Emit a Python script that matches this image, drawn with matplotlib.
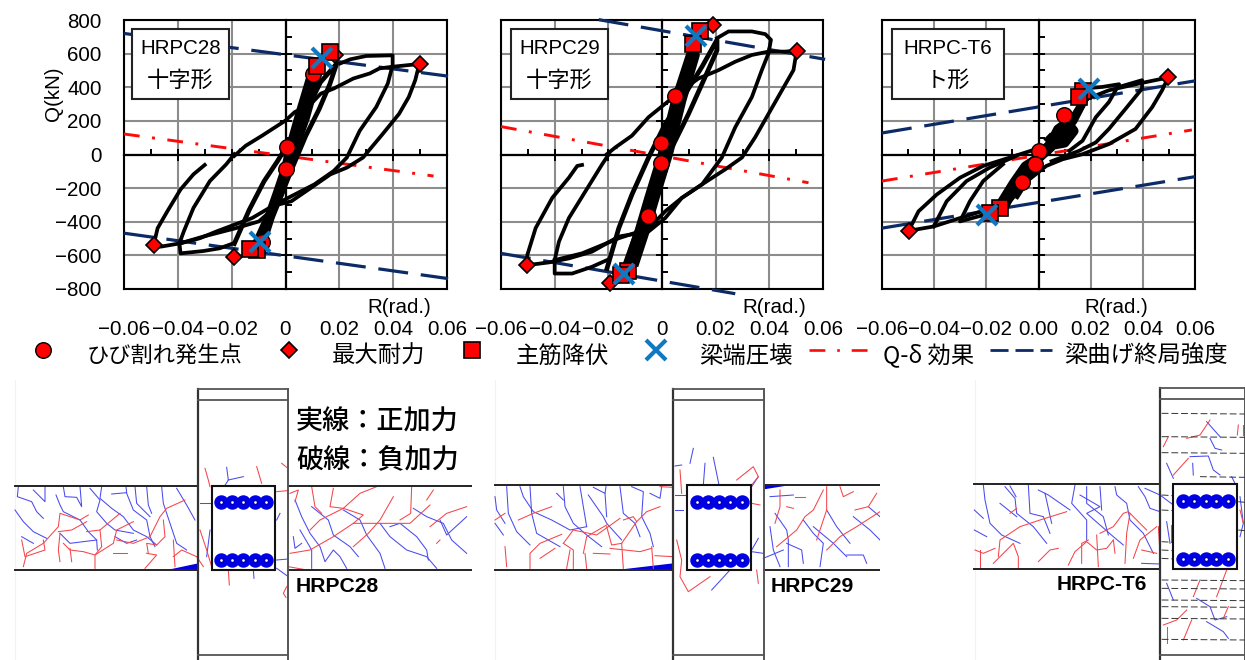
import matplotlib
matplotlib.use('Agg')
import matplotlib.pyplot as plt
from matplotlib.lines import Line2D
from matplotlib.patches import Polygon, Rectangle
from matplotlib.ticker import MultipleLocator

JP = ['Noto Sans CJK JP', 'DejaVu Sans']
LATIN = ['Liberation Sans', 'DejaVu Sans']
W, H = 1245, 660
NAVY = '#0b2a66'
RED_LINE = '#ff0a0a'
X_BLUE = '#0f78c0'

x_ticks = [-0.06, -0.04, -0.02, 0, 0.02, 0.04, 0.06]
y_ticks = [-800, -600, -400, -200, 0, 200, 400, 600, 800]
legend_labels = ['ひび割れ発生点', '最大耐力', '主筋降伏', '梁端圧壊', 'Q-δ 効果', '梁曲げ終局強度']

# --- HRPC28 ---
c28_curves = [
    [(-.019, -8), (-.0148, 52), (-.0087, 112), (0, 202), (.0034, 252), (.0095, 302), (.0131, 362), (.0179, 392),
     (.0252, 452), (.0313, 482), (.0349, 512), (.0398, 522), (.0458, 532), (.0497, 538), (.0482, 442), (.0458, 342),
     (.0422, 242), (.0361, 122), (.0288, -18), (.0228, -78), (.0167, -118), (.0095, -198), (.0022, -278),
     (-.0027, -298), (-.0099, -398), (-.0184, -438), (-.0305, -488), (-.039, -528), (-.0463, -548), (-.0491, -545),
     (-.0475, -438), (-.0439, -338), (-.039, -208), (-.0342, -118), (-.03, -62)],
    [(.0204, 542), (.024, 566), (.03, 586), (.0398, 590), (.0398, 532), (.038, 422), (.0337, 282), (.0276, 142),
     (.0228, -18), (.0179, -98), (.0107, -178), (.0034, -238), (-.0039, -298), (-.0124, -378), (-.0257, -458),
     (-.0318, -498), (-.039, -528)],
    [(-.0193, -528), (-.0245, -558), (-.0305, -574), (-.039, -588), (-.0394, -528), (-.0378, -458), (-.0342, -318),
     (-.0281, -158), (-.022, -58), (-.019, 2)],
]
c28_bands = [
    [(-.0105, -520), (-.006, -360), (-.0025, -200), (0, -80), (.002, 60), (.005, 230), (.0095, 470), (.0115, 450),
     (.0075, 220), (.004, 60), (.001, -80), (-.002, -230), (-.0055, -370), (-.0085, -520)],
]
c28_wide = [
    [(-.019, -530), (-.0135, -330), (-.008, -160), (-.003, -40), (.002, 90), (.0075, 250), (.013, 430), (.019, 540),
     (.0165, 420), (.0125, 270), (.0075, 110), (.0025, -80), (-.0015, -240), (-.006, -400), (-.01, -500)],
]
c28_crack = [(.0007, 46), (.0001, -84), (.0101, 478), (-.0087, -518)]
c28_peak = [(.05, 536), (-.049, -540), (-.019, -612), (.0185, 592)]
c28_yield = [(.0167, 608), (.0116, 528), (-.0105, -568), (-.0133, -564)]
c28_crush = [(.0137, 572), (-.0096, -518)]
c28_q_delta = ([-.06, .055], [122, -128])
c28_upper = ([-.06, .0604], [720, 466])
c28_lower = ([-.06, .0604], [-468, -738])

# --- HRPC29 ---
c29_curves = [
    [(-.0205, 2), (-.0174, 42), (-.0112, 112), (-.005, 222), (.0012, 302), (.0074, 382), (.0136, 452), (.0211, 502),
     (.0273, 552), (.0335, 592), (.0397, 612), (.0459, 612), (.0502, 618), (.049, 502), (.0447, 382), (.0397, 242),
     (.0347, 102), (.0298, -18), (.0236, -88), (.0149, -178), (.0074, -258), (.0012, -378), (-.005, -458),
     (-.0161, -488), (-.0261, -578), (-.0347, -618), (-.0422, -642), (-.0502, -658), (-.0502, -598), (-.0471, -438),
     (-.0409, -258), (-.0347, -138), (-.0316, -68), (-.0298, -62)],
    [(.0205, 692), (.0248, 732), (.0335, 732), (.0385, 716), (.0406, 682), (.0397, 602), (.0372, 502), (.0335, 342),
     (.0273, 162), (.0223, -18), (.0149, -178), (.0074, -258), (.0012, -338), (-.005, -440), (-.0161, -498),
     (-.0298, -588), (-.04, -628)],
    [(-.0205, -628), (-.0261, -668), (-.0335, -708), (-.04, -708), (-.04, -628), (-.0384, -518), (-.0347, -378),
     (-.0285, -218), (-.0223, -58), (-.0198, 2)],
]
c29_bands = [
    [(-.0124, -638), (-.0087, -458), (-.005, -258), (0, 2), (.005, 322), (.0105, 592), (.0125, 592), (.0075, 322),
     (.0025, 2), (-.0025, -258), (-.0062, -458), (-.0099, -638)],
]
c29_wide = [
    [(-.0205, -678), (-.0161, -438), (-.0112, -238), (-.005, -18), (.0012, 182), (.0087, 362), (.0149, 522),
     (.0205, 682), (.0205, 620), (.0161, 462), (.0099, 242), (.0037, 42), (-.0025, -198), (-.0099, -478),
     (-.0135, -640)],
]
c29_crack = [(.0048, 350), (-.0002, 68), (-.0002, -52), (-.0052, -368)]
c29_peak = [(.019, 772), (.0502, 618), (-.0502, -658), (-.0192, -764)]
c29_yield = [(.0143, 732), (.0114, 656), (-.0127, -694), (-.0151, -718)]
c29_crush = [(.0128, 702), (-.014, -712)]
c29_q_delta = ([-.06, .0546], [166, -168])
c29_upper = ([-.0236, .0608], [802, 566])
c29_lower = ([-.06, .0273], [-588, -828])

# --- HRPC-T6 ---
t6_curves = [
    [(.0169, 320), (.027, 382), (.0385, 422), (.0497, 458), (.0474, 382), (.0436, 282), (.0372, 152), (.027, 62),
     (.0169, 2), (.0093, -28), (.003, -68), (-.0045, -160), (-.0110, -280), (-.0199, -328), (-.0301, -378),
     (-.0402, -428), (-.0498, -454), (-.046, -338), (-.039, -238), (-.0301, -138), (-.0212, -68), (-.011, -18),
     (-.0009, 32)],
    [(.0309, 402), (.0397, 442), (.0397, 392), (.0334, 272), (.027, 152), (.022, 72), (.0156, 22), (.005, -40)],
    [(-.0402, -428), (-.0352, -278), (-.0276, -158), (-.0187, -78), (-.0085, -8)],
    [(.0169, 392), (.0245, 402), (.0309, 418), (.027, 312), (.022, 222), (.0169, 82), (.0118, 22)],
    [(-.0187, -350), (-.0301, -398), (-.0263, -278), (-.0212, -158), (-.0136, -58)],
]
t6_bands = [
    [(-.0123, -298), (-.0072, -138), (0, 2), (.0067, 102), (.0143, 242), (.0182, 342), (.0175, 320), (.0135, 200),
     (.0095, 120), (.005, 40), (0, -30), (-.006, -110), (-.011, -240), (-.0155, -310)],
]
t6_wide = [
    [(.0035, 30), (.0075, 150), (.011, 190), (.0135, 140), (.010, 70), (.0065, 60), (.0045, 90)],
    [(-.0135, -270), (-.0095, -170), (-.005, -70), (-.001, -30), (-.004, -120), (-.0085, -230)],
]
t6_crack = [(.0099, 236), (.0001, 22), (-.0014, -58), (-.0065, -164)]
t6_peak = [(.0497, 458), (-.0498, -454)]
t6_yield = [(.0171, 378), (.0156, 342), (-.0146, -318), (-.0187, -350)]
t6_crush = [(.0194, 392), (-.0199, -362)]
t6_q_delta = ([-.06, .0588], [-158, 146])
t6_upper = ([-.06, .06], [128, 438])
t6_lower = ([-.06, .06], [-438, -132])

# --- crack sketches, read in 3x crop units ---
a_blue = [
    [(55, 320), (52, 350), (95, 365), (110, 395), (130, 415)], [(45, 390), (70, 425), (100, 455), (140, 475)],
    [(100, 330), (135, 365), (135, 320)], [(168, 345), (180, 375), (190, 395), (240, 420), (265, 455), (290, 480), (292, 510)],
    [(190, 320), (195, 350), (230, 352), (245, 380), (240, 320)], [(270, 325), (300, 360), (290, 395), (320, 430), (345, 450), (400, 460)],
    [(305, 320), (300, 355), (335, 385), (370, 410), (400, 450), (440, 470), (470, 495)], [(335, 342), (380, 338), (378, 320)],
    [(380, 340), (400, 390), (440, 420), (450, 470), (465, 500)], [(405, 320), (410, 370), (450, 410)],
    [(440, 320), (445, 375), (455, 400)], [(485, 320), (490, 370), (510, 430), (530, 490), (560, 510)],
    [(530, 325), (560, 375), (585, 420)], [(65, 470), (100, 490)], [(180, 460), (210, 490), (290, 480)],
    [(345, 470), (380, 490), (410, 480)],
    [(885, 360), (905, 410), (930, 460), (960, 500), (975, 545), (1000, 510), (1020, 530), (1040, 565)],
    [(935, 380), (985, 420), (1000, 465), (1050, 500), (1075, 530)], [(1030, 390), (1080, 420), (1100, 465), (1140, 520), (1155, 565)],
    [(1140, 430), (1170, 470), (1220, 510), (1280, 530), (1310, 565)], [(1170, 440), (1200, 430), (1250, 470), (1280, 510), (1285, 540)],
    [(1240, 385), (1280, 410), (1330, 430), (1355, 480), (1400, 520)], [(900, 450), (935, 510), (935, 565)],
    [(1320, 420), (1340, 465), (1400, 410)], [(880, 470), (885, 505), (905, 490)],
    [(680, 262), (685, 300), (730, 290)], [(685, 300), (675, 316)], [(760, 570), (762, 595)], [(830, 540), (865, 537)],
    [(830, 420), (840, 400)], [(600, 370), (630, 370)], [(630, 450), (620, 530)], [(830, 565), (865, 590)],
]
a_red = [
    [(70, 560), (80, 520), (130, 490), (175, 440), (180, 400), (240, 420), (265, 405)], [(65, 480), (75, 530), (135, 510), (130, 480)],
    [(175, 455), (215, 450), (260, 425)], [(180, 460), (175, 510), (180, 545)],
    [(190, 490), (210, 510), (250, 515), (285, 525), (340, 490), (350, 450), (400, 425)], [(260, 455), (300, 450), (360, 400)],
    [(300, 450), (305, 500), (285, 525), (285, 565)], [(215, 545), (210, 505)], [(340, 520), (380, 520)],
    [(350, 480), (400, 490), (450, 470), (480, 410), (500, 385), (555, 360)], [(445, 520), (440, 490), (470, 495), (495, 470), (490, 420)],
    [(440, 520), (470, 525), (435, 565)], [(520, 530), (545, 510), (590, 530), (610, 560)], [(520, 480), (525, 560)],
    [(1000, 325), (990, 380), (1030, 385), (1080, 340), (1130, 320)], [(930, 450), (960, 420), (1030, 385), (1090, 405), (1060, 430)],
    [(870, 520), (930, 510), (1000, 470), (1060, 430), (1150, 430), (1230, 430), (1290, 375)], [(1060, 500), (1105, 460), (1140, 420), (1180, 350)],
    [(935, 320), (945, 380), (965, 400)], [(1235, 320), (1232, 400), (1200, 420)], [(1290, 440), (1340, 400), (1400, 380)],
    [(1300, 330), (1280, 360)], [(870, 340), (895, 330), (885, 365)], [(1310, 490), (1320, 480)],
    [(615, 265), (625, 300), (630, 320)], [(770, 260), (785, 310)], [(845, 250), (860, 262)], [(685, 570), (688, 615)],
    [(860, 620), (850, 640), (858, 652)], [(600, 450), (620, 510), (635, 560)], [(865, 560), (910, 568)], [(830, 335), (862, 332)],
]
a_wedges = [[(510, 568), (595, 550), (595, 570)], [(866, 317), (880, 317), (866, 321)]]

b_blue = [
    [(80, 320), (85, 400), (110, 455), (150, 495)], [(120, 320), (130, 350), (160, 395), (215, 420), (270, 450), (320, 440)],
    [(150, 320), (155, 400), (170, 460), (240, 500)], [(250, 320), (255, 380), (280, 430), (320, 465), (365, 500)],
    [(300, 320), (320, 440)], [(325, 345), (370, 410), (380, 430), (425, 480)], [(340, 322), (375, 340), (378, 320)],
    [(375, 340), (380, 410)], [(420, 320), (430, 400), (465, 430), (480, 470)], [(455, 320), (490, 335), (485, 410), (510, 460), (520, 500)],
    [(510, 340), (540, 355), (545, 320)], [(230, 340), (250, 360)], [(45, 350), (50, 390), (75, 430)], [(45, 430), (70, 465)],
    [(870, 350), (940, 345)], [(885, 400), (920, 450), (925, 480), (925, 560)], [(870, 440), (880, 510), (900, 560)],
    [(970, 420), (1000, 460), (1030, 490), (1020, 560)], [(1000, 440), (1060, 490), (1100, 530)], [(1040, 390), (1070, 440), (1110, 490)],
    [(1120, 410), (1170, 450), (1200, 480)], [(850, 535), (910, 510)], [(920, 490), (965, 510), (970, 550)],
    [(1100, 525), (1150, 525), (1160, 550)], [(1165, 380), (1200, 410)],
    [(640, 205), (630, 250)], [(585, 258), (605, 255)], [(675, 250), (670, 315)], [(700, 232), (717, 315)], [(585, 345), (620, 345)],
    [(585, 390), (610, 390)], [(695, 630), (750, 570)], [(815, 515), (850, 520)], [(815, 510), (835, 475)], [(815, 320), (835, 290)],
]
b_red = [
    [(150, 565), (150, 520), (180, 490), (245, 463)], [(215, 380), (160, 400), (115, 420)], [(180, 535), (225, 505)],
    [(250, 490), (280, 510), (280, 565)], [(250, 490), (280, 450), (350, 465), (420, 415)], [(310, 520), (320, 470), (380, 435)],
    [(315, 520), (320, 565)], [(380, 440), (395, 495), (425, 490), (470, 425), (500, 395), (540, 380)], [(390, 505), (480, 515), (515, 505)],
    [(425, 490), (430, 565)], [(515, 500), (520, 565)], [(75, 500), (80, 560)], [(260, 565), (270, 510)], [(340, 520), (390, 522)],
    [(525, 527), (580, 530)], [(430, 420), (460, 410), (470, 425)], [(45, 420), (75, 400)], [(540, 320), (580, 322)],
    [(900, 330), (900, 380), (885, 430)], [(890, 500), (950, 450), (975, 410), (1000, 390), (1030, 330)], [(945, 350), (975, 350)],
    [(1040, 320), (1040, 390), (1010, 480)], [(1080, 320), (1090, 350), (1120, 335)], [(1125, 390), (1165, 380), (1190, 340)],
    [(1040, 510), (1080, 470), (1130, 440), (1200, 395)], [(920, 380), (940, 385)],
    [(600, 270), (605, 340)], [(770, 300), (820, 260), (835, 290), (815, 315)], [(590, 480), (605, 540), (600, 590), (625, 635), (690, 590)],
    [(815, 370), (840, 375)], [(830, 570), (835, 610)],
]
b_wedges = [[(435, 567), (580, 550), (580, 570)], [(852, 317), (920, 317), (852, 328)]]

c_blue = [
    [(70, 315), (75, 360), (90, 430), (125, 465), (180, 490)], [(135, 320), (165, 355), (170, 400), (220, 440), (260, 490)],
    [(120, 370), (170, 410)], [(150, 318), (168, 350)], [(205, 315), (210, 400), (250, 410), (270, 460)], [(235, 330), (265, 345), (330, 390)],
    [(255, 340), (275, 430)], [(345, 315), (335, 370), (380, 420), (380, 480)], [(380, 320), (380, 370), (430, 410), (445, 465)],
    [(360, 345), (420, 380), (380, 400), (460, 470), (490, 495)], [(420, 320), (425, 390)], [(465, 320), (470, 345), (500, 370), (510, 420), (550, 460), (580, 520)],
    [(535, 320), (555, 350), (570, 385), (600, 395)], [(555, 325), (600, 345), (640, 375)], [(43, 390), (70, 415)], [(43, 450), (80, 470)],
    [(545, 550), (600, 552)],
    [(740, 125), (780, 170)], [(750, 175), (765, 205), (785, 210)], [(690, 230), (745, 228), (760, 270), (780, 285)], [(620, 250), (640, 295)],
    [(698, 250), (700, 285)], [(815, 290), (825, 310)], [(620, 610), (640, 660)], [(710, 655), (750, 680), (765, 720), (800, 710)],
    [(740, 725), (790, 755), (805, 775)], [(620, 425), (630, 490)], [(840, 350), (850, 430), (840, 470)],
]
c_red = [
    [(115, 530), (120, 480), (180, 440), (240, 420), (320, 395)], [(150, 400), (170, 385)], [(100, 550), (160, 490), (175, 530), (175, 565)],
    [(45, 510), (70, 520), (105, 505)], [(60, 510), (60, 560)], [(235, 545), (270, 510), (295, 505)],
    [(325, 555), (345, 515), (380, 485), (410, 510), (440, 505), (460, 480)], [(420, 460), (460, 440), (490, 400), (505, 395), (560, 450)],
    [(365, 550), (365, 490), (385, 480)], [(410, 465), (415, 560)], [(460, 480), (465, 520)], [(495, 550), (500, 460), (510, 400)],
    [(520, 535), (540, 480), (590, 440)], [(545, 510), (590, 520)], [(595, 440), (600, 520)],
    [(750, 120), (720, 165), (680, 175)], [(610, 200), (625, 170)], [(685, 235), (640, 285)], [(835, 135), (832, 165)], [(848, 135), (848, 165)],
    [(800, 570), (770, 650)], [(720, 600), (700, 650)], [(805, 680), (790, 715)], [(680, 690), (650, 720), (610, 735)],
    [(695, 720), (670, 780)], [(620, 740), (620, 790)], [(632, 435), (632, 485)], [(840, 390), (850, 430)],
]
c_ties = [
    (605, 855, 100), (605, 855, 170), (605, 855, 218), (720, 855, 290), (605, 640, 345), (605, 640, 390), (605, 640, 485),
    (605, 640, 510), (605, 640, 535), (835, 855, 365), (835, 855, 450), (605, 855, 600), (605, 855, 625), (605, 855, 660),
    (605, 855, 680), (605, 855, 715), (605, 855, 778),
]


def ax_at(left, top, right, bottom, **kwargs):
    """Оси по пиксельным границам."""
    return plt.gcf().add_axes([left / W, 1 - bottom / H, (right - left) / W, (bottom - top) / H], **kwargs)


def unzip(points):
    return [p[0] for p in points], [p[1] for p in points]


def panel(box, curves, bands, wide, crack, peak, yld, crush, q_delta, upper, lower, zero_label, name, kind, label_box, r_x,
          y_labels=False, wide_width=3.4, band_width=6.2):
    left, top, right, bottom = box
    back = ax_at(left, top, right, bottom, zorder=1)
    back.set_xlim(-0.06, 0.06)
    back.set_ylim(-800, 800)
    back.set_xticks(x_ticks)
    back.set_yticks(y_ticks)
    back.set_xticklabels(['\u22120.06', '\u22120.04', '\u22120.02', zero_label, '0.02', '0.04', '0.06'],
                         family=LATIN, fontsize=14.8)
    if y_labels:
        back.set_yticklabels([str(v).replace('-', '\u2212') for v in y_ticks], family=LATIN, fontsize=14.8)
    else:
        back.set_yticklabels([])
    back.tick_params(axis='x', length=0, pad=22.5)
    back.tick_params(axis='y', length=0, pad=16)
    back.grid(True, color='#8c8c8c', linewidth=1.5)
    back.set_axisbelow(True)
    for spine in back.spines.values():
        spine.set_linewidth(1.5)
        spine.set_color('black')

    ax = ax_at(left, top, right, bottom, zorder=2)
    ax.patch.set_visible(False)
    ax.set_xlim(-0.06, 0.06)
    ax.set_ylim(-800, 800)
    ax.spines['top'].set_visible(False)
    ax.spines['right'].set_visible(False)
    ax.spines['left'].set_position('zero')
    ax.spines['bottom'].set_position('zero')
    ax.spines['left'].set_linewidth(1.6)
    ax.spines['bottom'].set_linewidth(1.6)
    ax.xaxis.set_major_locator(MultipleLocator(0.02))
    ax.xaxis.set_minor_locator(MultipleLocator(0.01))
    ax.yaxis.set_major_locator(MultipleLocator(200))
    ax.yaxis.set_minor_locator(MultipleLocator(100))
    ax.tick_params(which='major', direction='inout', length=8, width=1.4, labelbottom=False, labelleft=False)
    ax.tick_params(which='minor', direction='in', length=4, width=1.4)

    ax.plot(*q_delta, color=RED_LINE, linewidth=2.1, dashes=(5.4, 4.3, 1, 4.3), zorder=3, clip_on=False)
    ax.plot(*upper, color=NAVY, linewidth=2.3, dashes=(9.4, 4), zorder=3, clip_on=False)
    ax.plot(*lower, color=NAVY, linewidth=2.3, dashes=(9.4, 4), zorder=3, clip_on=False)

    for curve in curves:
        ax.plot(*unzip(curve), color='black', linewidth=2.7, zorder=4, solid_joinstyle='round')
    for band in wide:
        ax.plot(*unzip(band), color='black', linewidth=wide_width, zorder=4, solid_joinstyle='round')
    for band in bands:
        ax.plot(*unzip(band), color='black', linewidth=band_width, zorder=4, solid_joinstyle='round')

    circle, = ax.plot(*unzip(crack), 'o', color='#ff0000', markeredgecolor='black', markeredgewidth=1.0, markersize=11.2,
                      zorder=5, linestyle='none', clip_on=False)
    diamond, = ax.plot(*unzip(peak), 'D', color='#ff0000', markeredgecolor='black', markeredgewidth=1.2, markersize=8.4,
                       zorder=5, linestyle='none', clip_on=False)
    square, = ax.plot(*unzip(yld), 's', color='#ff0000', markeredgecolor='black', markeredgewidth=1.2, markersize=12,
                      zorder=6, linestyle='none', clip_on=False)
    cross, = ax.plot(*unzip(crush), 'x', color=X_BLUE, markeredgewidth=3, markersize=14, zorder=7, linestyle='none',
                     clip_on=False)

    ax.text(r_x, -0.067, 'R(rad.)', transform=ax.get_xaxis_transform(), ha='center', va='center', family=LATIN,
            fontsize=14.8)

    x0, y0, x1, y1 = label_box
    ax.add_patch(Rectangle(((x0 - left) / (right - left), (bottom - y1) / (bottom - top)),
                           (x1 - x0) / (right - left), (y1 - y0) / (bottom - top), transform=ax.transAxes,
                           facecolor='white', edgecolor='#222222', linewidth=1.5, zorder=8))
    cx = (x0 + x1) / 2
    fx = (cx - left) / (right - left)
    ax.text(fx, (bottom - 49) / (bottom - top), name, transform=ax.transAxes, ha='center', va='center', family=LATIN,
            fontsize=14.8, zorder=9)
    ax.text(fx, (bottom - 80) / (bottom - top), kind, transform=ax.transAxes, ha='center', va='center', family=JP,
            fontsize=16, zorder=9)
    return circle, diamond, square, cross


def sketch(crop, beam, column, caps, section, rebar_x, rebar_y, blue, red, wedges=()):
    """Рисует схему трещин в единицах увеличенного кадра."""
    x, y, w, h = crop
    ax = ax_at(x, y, x + w, y + h, zorder=1)
    ax.set_xlim(0, 3 * w)
    ax.set_ylim(3 * h, 0)
    ax.axis('off')
    ax.plot([45, 45], [0, 3 * h], color='#f2f2f2', linewidth=0.8)
    for crack in blue:
        ax.plot(*unzip(crack), color='#4a4aee', linewidth=0.75)
    for crack in red:
        ax.plot(*unzip(crack), color='#f5454a', linewidth=0.75)
    for wedge in wedges:
        ax.add_patch(Polygon(wedge, closed=True, facecolor='#0000e0', edgecolor='none'))

    b_left, b_right, b_top, b_bottom = beam
    c_left, c_right = column
    ax.plot([b_left, c_left], [b_top, b_top], color='#222222', linewidth=1.4)
    ax.plot([b_left, c_left], [b_bottom, b_bottom], color='#222222', linewidth=1.4)
    if b_right:
        ax.plot([c_right, b_right], [b_top, b_top], color='#222222', linewidth=1.4)
        ax.plot([c_right, b_right], [b_bottom, b_bottom], color='#222222', linewidth=1.4)
    ax.plot([c_left, c_left], [caps[0], 3 * h], color='#333333', linewidth=1.6)
    ax.plot([c_right, c_right], [caps[0], 3 * h], color='#555555', linewidth=1.4)
    for cap in caps:
        ax.plot([c_left, c_right], [cap, cap], color='#555555', linewidth=1.3)

    s_left, s_right, s_top, s_bottom = section
    ax.add_patch(Rectangle((s_left, s_top), s_right - s_left, s_bottom - s_top, facecolor='white', edgecolor='#111111',
                           linewidth=1.5, zorder=3))
    for ry in rebar_y:
        ax.plot(rebar_x, [ry] * len(rebar_x), 'o', color='#0000e6', markersize=9.4, linestyle='none', zorder=4)
        ax.plot(rebar_x, [ry] * len(rebar_x), 'o', markerfacecolor='none', markeredgecolor='#0000a0', markeredgewidth=0.5,
                markersize=3.6, linestyle='none', zorder=5)
        ax.plot(rebar_x, [ry] * len(rebar_x), 'o', color='white', markersize=0.9, linestyle='none', zorder=6)
    return ax


def main():
    fig = plt.figure(figsize=(W / 100, H / 100), dpi=100, facecolor='white')

    marks = panel((124, 20, 447, 289), c28_curves, c28_bands, c28_wide, c28_crack, c28_peak, c28_yield, c28_crush,
                  c28_q_delta, c28_upper, c28_lower, '0', 'HRPC28', '十字形', (132, 29, 229, 99), 0.0422, y_labels=True)
    panel((501, 20, 823, 289), c29_curves, c29_bands, c29_wide, c29_crack, c29_peak, c29_yield, c29_crush,
          c29_q_delta, c29_upper, c29_lower, '0', 'HRPC29', '十字形', (511, 29, 608, 99), 0.0417)
    panel((882, 20, 1195, 289), t6_curves, t6_bands, t6_wide, t6_crack, t6_peak, t6_yield, t6_crush,
          t6_q_delta, t6_upper, t6_lower, '0.00', 'HRPC-T6', 'ト形', (892, 29, 1004, 99), 0.03, wide_width=7,
          band_width=5.5)
    fig.text(54 / W, 1 - 94 / H, 'Q(kN)', rotation=90, ha='center', va='center', family=LATIN, fontsize=14.8)

    handles = list(marks) + [
        Line2D([], [], color=RED_LINE, linewidth=1.9, dashes=(6, 4.5, 1, 4.5)),
        Line2D([], [], color=NAVY, linewidth=2, dashes=(6.5, 2.5)),
    ]
    legend = fig.legend(handles, legend_labels, loc='center left', bbox_to_anchor=(12 / W, 1 - 351 / H), frameon=False,
                        ncol=6, prop={'family': JP, 'size': 16.8}, handlelength=2.66, handletextpad=0.52,
                        columnspacing=0.68, borderpad=0, borderaxespad=0, numpoints=1)
    legend_texts = legend.get_texts()
    legend_texts[0].set_fontsize(16)
    for text in legend_texts:
        text.set_y(-5)

    sa = sketch((0, 380, 480, 280), (45, 1412, 317, 570), (595, 865), (28, 60, 825), (635, 825, 317, 570),
                [662, 696, 730, 764, 797], [367, 540], a_blue, a_red, a_wedges)
    sa.text(888, 126, '実線：正加力', family=JP, fontsize=19.5, va='center', ha='left', weight='medium')
    sa.text(888, 241, '破線：負加力', family=JP, fontsize=19.5, va='center', ha='left', weight='medium')
    sa.text(888, 620, 'HRPC28', family=LATIN, fontsize=15.2, weight='bold', va='center', ha='left')

    sb = sketch((480, 380, 400, 280), (45, 1200, 315, 570), (580, 852), (28, 60, 825), (622, 812, 315, 570),
                [650, 683, 716, 750, 785], [367, 540], b_blue, b_red, b_wedges)
    sb.text(872, 620, 'HRPC29', family=LATIN, fontsize=15.2, weight='bold', va='center', ha='left')

    sc = sketch((960, 380, 285, 280), (43, None, 313, 567), (600, 855), (25, 57, 825), (640, 832, 313, 567),
                [668, 703, 737, 769, 803], [363, 537], c_blue, c_red)
    for x0, x1, y in c_ties:
        sc.plot([x0, x1], [y, y + 2], color='#333333', linewidth=0.7, dashes=(7, 3), zorder=2)
    sc.text(290, 612, 'HRPC-T6', family=LATIN, fontsize=15, weight='bold', va='center', ha='left')

    fig.savefig('out.png', dpi=100)


if __name__ == '__main__':
    main()
